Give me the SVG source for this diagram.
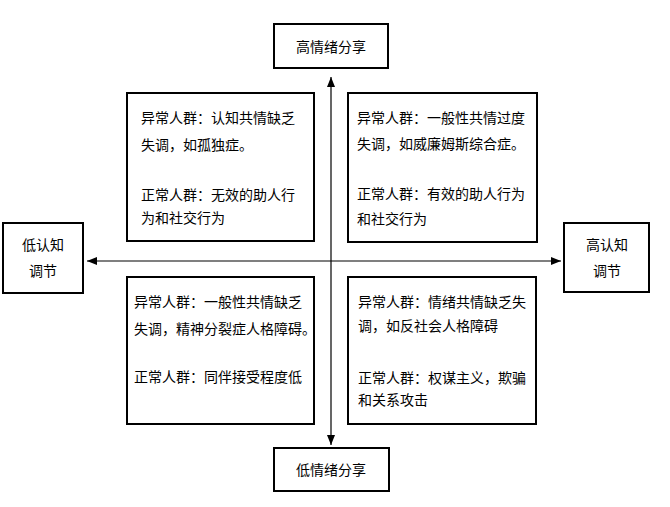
<svg xmlns="http://www.w3.org/2000/svg" width="670" height="507" viewBox="0 0 670 507">
<defs>
<marker id="ah" viewBox="0 0 10 8" refX="10" refY="4" markerWidth="10" markerHeight="8" markerUnits="userSpaceOnUse" orient="auto">
<path d="M0,0 L10,4 L0,8 z" fill="#000"/>
</marker>
<style>
.box{fill:#fff;stroke:#000;stroke-width:2}
.t{font-family:"Liberation Sans","Noto Sans CJK SC",sans-serif;font-size:14px;fill:#000}
.c{text-anchor:middle}
.ln{stroke:#000;stroke-width:1.2;fill:none}
</style>
</defs>
<rect width="670" height="507" fill="#fff"/>
<g id="connectors">
<line class="ln" x1="331" y1="261" x2="87" y2="261" marker-end="url(#ah)"/>
<line class="ln" x1="331" y1="261" x2="561" y2="261" marker-end="url(#ah)"/>
<line class="ln" x1="331" y1="261" x2="331" y2="77" marker-end="url(#ah)"/>
<line class="ln" x1="331" y1="261" x2="331" y2="445" marker-end="url(#ah)"/>
</g>
<g id="top">
<rect class="box" x="274" y="24" width="114" height="44"/>
<text class="t c" x="331" y="52">高情绪分享</text>
</g>
<g id="bottom">
<rect class="box" x="274" y="448" width="115" height="43"/>
<text class="t c" x="331" y="475">低情绪分享</text>
</g>
<g id="left">
<rect class="box" x="3" y="223" width="80" height="70"/>
<text class="t c" x="43" y="250">低认知</text>
<text class="t c" x="43" y="276">调节</text>
</g>
<g id="right">
<rect class="box" x="564" y="223" width="85" height="69"/>
<text class="t c" x="607" y="250">高认知</text>
<text class="t c" x="607" y="276">调节</text>
</g>
<g id="q1">
<rect class="box" x="127" y="93" width="187" height="148"/>
<text class="t" x="141" y="123">异常人群：认知共情缺乏</text>
<text class="t" x="141" y="150">失调，如孤独症。</text>
<text class="t" x="141" y="200">正常人群：无效的助人行</text>
<text class="t" x="141" y="223">为和社交行为</text>
</g>
<g id="q2">
<rect class="box" x="348" y="93" width="189" height="149"/>
<text class="t" x="357" y="123">异常人群：一般性共情过度</text>
<text class="t" x="357" y="149">失调，如威廉姆斯综合症。</text>
<text class="t" x="357" y="199">正常人群：有效的助人行为</text>
<text class="t" x="357" y="224">和社交行为</text>
</g>
<g id="q3">
<rect class="box" x="127" y="277" width="187" height="147"/>
<text class="t" x="134" y="307">异常人群：一般性共情缺乏</text>
<text class="t" x="134" y="334">失调，精神分裂症人格障碍。</text>
<text class="t" x="134" y="382">正常人群：同伴接受程度低</text>
</g>
<g id="q4">
<rect class="box" x="348" y="277" width="188" height="147"/>
<text class="t" x="358" y="307">异常人群：情绪共情缺乏失</text>
<text class="t" x="358" y="331">调，如反社会人格障碍</text>
<text class="t" x="358" y="383">正常人群：权谋主义，欺骗</text>
<text class="t" x="358" y="405">和关系攻击</text>
</g>
</svg>
